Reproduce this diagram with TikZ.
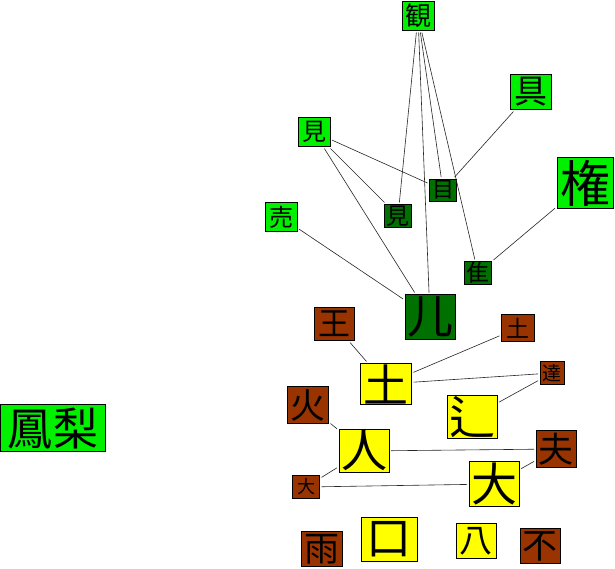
\documentclass[tikz,border=0pt]{standalone}
\usepackage{fontspec}
\newfontfamily\cjk{Noto Sans CJK JP}
\definecolor{lightgreen}{RGB}{0,240,0}
\definecolor{darkgreen}{RGB}{0,112,0}
\definecolor{rootbrown}{RGB}{153,51,0}
\definecolor{partyellow}{RGB}{255,255,0}
\newcommand{\glyphsize}[1]{\cjk\fontsize{#1}{#1}\selectfont}
\tikzset{
  kanji/.style={draw=black, line width=0.8pt, inner sep=0pt, outer sep=2pt, text=black},
  lightnode/.style={kanji, fill=lightgreen},
  darknode/.style={kanji, fill=darkgreen},
  brownnode/.style={kanji, fill=rootbrown},
  yellownode/.style={kanji, fill=partyellow},
  link/.style={draw=black!85, line width=0.6pt}
}
\begin{document}
\begin{tikzpicture}[x=1pt, y=-1pt]
  \useasboundingbox[fill=white] (0,0) rectangle (615,569);
  % green words and parts
  \node[lightnode, minimum width=32, minimum height=29, font=\glyphsize{26}] (kan) at (418,16) {観};
  \node[lightnode, minimum width=41, minimum height=35, font=\glyphsize{33}] (gu) at (531,92) {具};
  \node[lightnode, minimum width=32, minimum height=29, font=\glyphsize{24}] (ken) at (314,132) {見};
  \node[lightnode, minimum width=56, minimum height=51, font=\glyphsize{50}] (gon) at (585,183) {権};
  \node[lightnode, minimum width=32, minimum height=29, font=\glyphsize{24}] (bai) at (281,217) {売};
  \node[darknode, minimum width=27, minimum height=22, font=\glyphsize{22}] (me) at (443,190) {目};
  \node[darknode, minimum width=27, minimum height=23, font=\glyphsize{23}] (kenb) at (398,216) {見};
  \node[darknode, minimum width=27, minimum height=23, font=\glyphsize{23}] (sui) at (478,273) {隹};
  \node[darknode, minimum width=50, minimum height=45, font=\glyphsize{46}] (nin) at (430,317) {儿};
  \node[lightnode, minimum width=105, minimum height=47, font=\glyphsize{45}] (hori) at (53,428) {鳳梨};
  % brown roots
  \node[brownnode, minimum width=40, minimum height=33, font=\glyphsize{32}] (ou) at (334,324) {王};
  \node[brownnode, minimum width=33, minimum height=27, font=\glyphsize{23}] (dos) at (518,328) {土};
  \node[brownnode, minimum width=24, minimum height=23, font=\glyphsize{19}] (tatsu) at (552,373) {達};
  \node[brownnode, minimum width=41, minimum height=37, font=\glyphsize{35}] (hi) at (308,405) {火};
  \node[brownnode, minimum width=40, minimum height=37, font=\glyphsize{35}] (otto) at (556,449) {夫};
  \node[brownnode, minimum width=27, minimum height=23, font=\glyphsize{18}] (dais) at (306,487) {大};
  \node[brownnode, minimum width=41, minimum height=35, font=\glyphsize{35}] (ame) at (322,549) {雨};
  \node[brownnode, minimum width=40, minimum height=35, font=\glyphsize{35}] (fu) at (540,546) {不};
  % yellow parts
  \node[yellownode, minimum width=51, minimum height=41, font=\glyphsize{45}] (doy) at (386,384) {土};
  \node[yellownode, minimum width=50, minimum height=43, font=\glyphsize{46}] (shin) at (472,417) {辶};
  \node[yellownode, minimum width=50, minimum height=43, font=\glyphsize{46}] (hito) at (364,451) {人};
  \node[yellownode, minimum width=50, minimum height=45, font=\glyphsize{46}] (daiy) at (494,484) {大};
  \node[yellownode, minimum width=56, minimum height=44, font=\glyphsize{45}] (kuchi) at (389,539) {口};
  \node[yellownode, minimum width=40, minimum height=35, font=\glyphsize{33}] (hachi) at (476,541) {八};
  % links
  \draw[link] (kan) -- (kenb);
  \draw[link] (kan) -- (nin);
  \draw[link] (kan) -- (me);
  \draw[link] (kan) -- (sui);
  \draw[link] (ken) -- (me);
  \draw[link] (ken) -- (kenb);
  \draw[link] (ken) -- (nin);
  \draw[link] (bai) -- (nin);
  \draw[link] (gu) -- (me);
  \draw[link] (gon) -- (sui);
  \draw[link] (ou) -- (doy);
  \draw[link] (dos) -- (doy);
  \draw[link] (tatsu) -- (doy);
  \draw[link] (tatsu) -- (shin);
  \draw[link] (hi) -- (hito);
  \draw[link] (hito) -- (otto);
  \draw[link] (hito) -- (dais);
  \draw[link] (dais) -- (daiy);
  \draw[link] (otto) -- (daiy);
\end{tikzpicture}
\end{document}
